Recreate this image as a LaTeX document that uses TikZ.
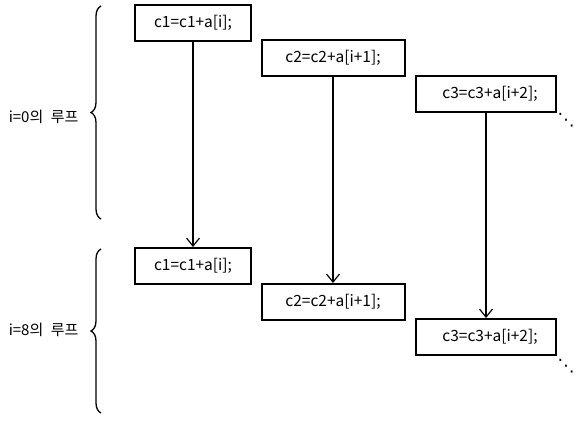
\documentclass[tikz,border=0pt]{standalone}
\usepackage{fontspec}
\setmainfont{Noto Sans CJK KR}
\newfontfamily\dotsfont{DejaVu Sans}
\usetikzlibrary{arrows.meta,decorations.pathreplacing}
\tikzset{
  stmt/.style={draw, line width=2pt, minimum height=36pt, inner sep=0pt, font=\fontsize{15.5}{17}\selectfont},
  flow/.style={line width=1.2pt, -{Straight Barb[length=8pt,width=13pt,line width=1.2pt]}},
  loopbrace/.style={decorate, line width=1.3pt, decoration={brace, amplitude=10pt}},
  looplabel/.style={anchor=east, font=\fontsize{15}{17}\selectfont},
  etc/.style={inner sep=0pt, font=\dotsfont\fontsize{17}{17}\selectfont}
}
\begin{document}
\begin{tikzpicture}[x=1pt, y=-1pt]
  \useasboundingbox (0,0) rectangle (583,420);
  % === i=0 loop ===
  \node[stmt, minimum width=116pt] (a1) at (193,23) {c1=c1+a[i];};
  \node[stmt, minimum width=143pt] (a2) at (333,58) {c2=c2+a[i+1];};
  \node[stmt, minimum width=140pt] (a3) at (486,93.5) {\hspace{8pt}c3=c3+a[i+2];};
  \node[etc] (d1) at (566,120) {⋱};
  % === i=8 loop ===
  \node[stmt, minimum width=116pt] (b1) at (193,266) {c1=c1+a[i];};
  \node[stmt, minimum width=143pt] (b2) at (333,302) {c2=c2+a[i+1];};
  \node[stmt, minimum width=140pt] (b3) at (486,337) {\hspace{8pt}c3=c3+a[i+2];};
  \node[etc] (d2) at (566,366) {⋱};
  % === dependencies ===
  \draw[flow] (a1) -- (b1);
  \draw[flow] (a2) -- (b2);
  \draw[flow] (a3) -- (b3);
  % === braces ===
  \coordinate (t0) at (101,6);
  \coordinate (t1) at (101,219);
  \coordinate (u0) at (101,249);
  \coordinate (u1) at (101,413);
  \draw[loopbrace] (t1) -- (t0);
  \draw[loopbrace] (u1) -- (u0);
  \node[looplabel] (l0) at (82,117) {i=0의\enspace 루프};
  \node[looplabel] (l1) at (82,330) {i=8의\enspace 루프};
\end{tikzpicture}
\end{document}
